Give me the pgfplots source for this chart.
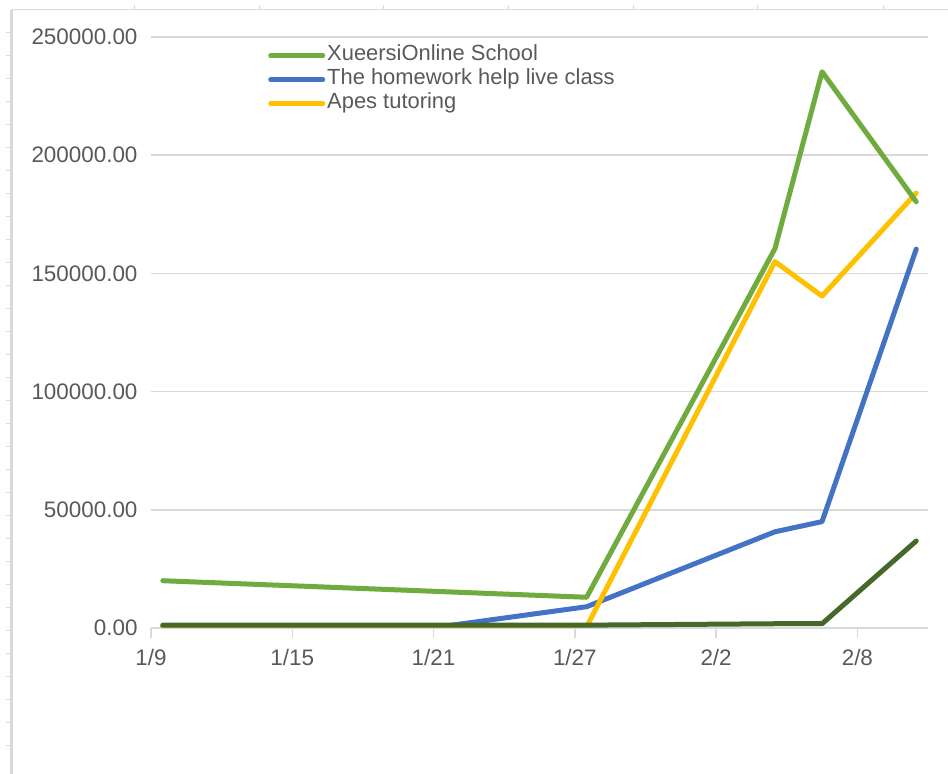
\documentclass[border=0pt]{standalone}
\usepackage{fontspec}
\setmainfont{Liberation Sans}
\usepackage{pgfplots}
\pgfplotsset{compat=1.18}
\definecolor{cgreen}{HTML}{6FAB3F}
\definecolor{cblue}{HTML}{4472C4}
\definecolor{cyellow}{HTML}{FFC000}
\definecolor{cdark}{HTML}{44692A}
\definecolor{cgrid}{HTML}{D9D9D9}
\definecolor{ctext}{HTML}{595959}

\begin{document}
\begin{tikzpicture}[x=1bp,y=1bp]
\useasboundingbox (0,0) rectangle (948,774);
% sheet frame around the chart
\draw[cgrid, line width=3bp] (11,0) -- (11,764);
\draw[cgrid, line width=1bp] (11,764) -- (948,764);
\foreach \x in {134,259,383,508,633,757,883}
  \draw[cgrid, line width=1bp] (\x,764) -- (\x,769);
\foreach \y in {741,718,...,10}
  \draw[cgrid, line width=1bp] (6,\y) -- (10,\y);

\begin{axis}[
  at={(151bp,146bp)}, anchor=south west,
  scale only axis, width=777bp, height=591bp,
  xmin=0, xmax=33, ymin=0, ymax=250000,
  axis x line=bottom, axis y line=left,
  x axis line style={-, draw=cgrid, line width=1.5bp},
  y axis line style={draw=none},
  xtick={0,6,...,30},
  xticklabels={1/9,1/15,1/21,1/27,2/2,2/8},
  ytick={0,50000,...,250000},
  x tick style={draw=cgrid, line width=1.5bp},
  y tick style={draw=none},
  tick align=outside, major tick length=10bp,
  ymajorgrids, grid style={cgrid, line width=1.5bp},
  ticklabel style={font=\fontsize{22.5}{26}\selectfont, text=ctext},
  xticklabel style={yshift=-8bp},
  /pgf/number format/assume math mode=true,
  yticklabel style={/pgf/number format/.cd, fixed, fixed zerofill, precision=2, 1000 sep={}},
  scaled y ticks=false,
  legend style={at={(0.1506,0.989)}, anchor=north west, draw=none, fill=none,
    font=\fontsize{22}{24}\selectfont, text=ctext, inner sep=0pt, row sep=0pt,
    nodes={inner sep=2bp, text height=15bp, text depth=5bp}},
  legend cell align=left,
  legend image code/.code={\draw[#1] (0bp,0bp) -- (52bp,0bp);},
  every axis plot/.append style={line width=5bp, line join=round, line cap=round},
]
\addlegendimage{cgreen, line width=5bp, line cap=round}
\addlegendentry{XueersiOnline School}
\addlegendimage{cblue, line width=5bp, line cap=round}
\addlegendentry{The homework help live class}
\addlegendimage{cyellow, line width=5bp, line cap=round}
\addlegendentry{Apes tutoring}

\addplot[cblue, forget plot] coordinates {
  (0.5,800) (12.5,800) (18.5,9000) (26.5,40700) (28.5,45000) (32.5,160300)};
\addplot[cyellow, forget plot] coordinates {
  (0.5,500) (18.5,500) (26.5,155000) (28.5,140400) (32.5,184000)};
\addplot[cgreen, forget plot] coordinates {
  (0.5,20000) (18.5,13000) (26.5,160500) (28.5,235300) (32.5,180300)};
\addplot[cdark, forget plot] coordinates {
  (0.5,1200) (18.5,1200) (26.5,1800) (28.5,1800) (32.5,36800)};
\end{axis}
\end{tikzpicture}
\end{document}
